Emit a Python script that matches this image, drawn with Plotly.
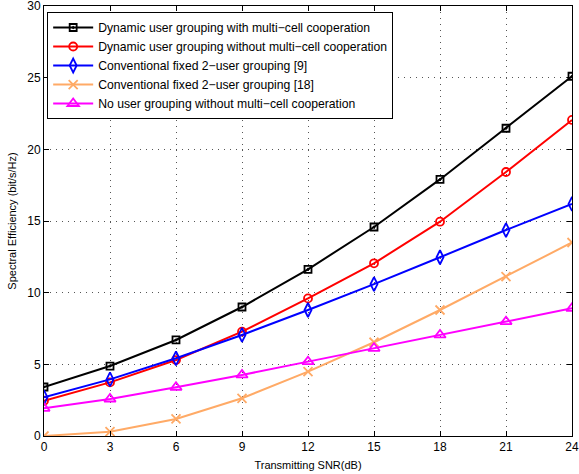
import plotly.graph_objects as go

snr = [0, 3, 6, 9, 12, 15, 18, 21, 24]
dyn_coop = [3.42, 4.88, 6.7, 9.0, 11.63, 14.58, 17.9, 21.47, 25.1]
dyn_nocoop = [2.46, 3.74, 5.3, 7.28, 9.6, 12.05, 14.95, 18.42, 22.05]
fixed9 = [2.7, 3.95, 5.42, 7.05, 8.79, 10.6, 12.47, 14.37, 16.19]
fixed18 = [0.0, 0.3, 1.19, 2.63, 4.49, 6.54, 8.79, 11.12, 13.5]
nogroup = [1.93, 2.58, 3.4, 4.26, 5.19, 6.12, 7.05, 7.98, 8.91]

names = [
    "Dynamic user grouping with multi\u2212cell cooperation",
    "Dynamic user grouping without multi\u2212cell cooperation",
    "Conventional fixed 2\u2212user grouping [9]",
    "Conventional fixed 2\u2212user grouping [18]",
    "No user grouping without multi\u2212cell cooperation",
]
x_ticks = [0, 3, 6, 9, 12, 15, 18, 21, 24]
y_ticks = [0, 5, 10, 15, 20, 25, 30]

series = [dyn_coop, dyn_nocoop, fixed9, fixed18, nogroup]
colors = ["#000000", "#FF0000", "#0000FF", "#FFAA66", "#FF00FF"]
symbols = ["square-open-dot", "circle-open", "diamond-tall-open", "x-thin-open", "triangle-up-open"]
sizes = [7, 8, 10, 9, 10]

fig = go.Figure()
for ys, nm, c, s, sz in zip(series, names, colors, symbols, sizes):
    fig.add_trace(go.Scatter(
        x=snr, y=ys, name=nm, mode="lines+markers",
        line=dict(color=c, width=2),
        marker=dict(symbol=s, size=sz, color=c, line=dict(color=c, width=1.8)),
    ))

axis_common = dict(
    showline=True, linecolor="black", linewidth=1, mirror="allticks",
    ticks="inside", ticklen=5, tickcolor="black", automargin=False,
    ticklabeloverflow="allow",
    showgrid=True, gridcolor="#555555", griddash="1px,5px", gridwidth=1,
    zeroline=False, tickfont=dict(size=12, color="black"),
)

fig.update_xaxes(range=[0, 24], tickvals=x_ticks,
                 title=dict(text="Transmitting SNR(dB)", font=dict(size=11, color="black"), standoff=7),
                 **axis_common)
fig.update_yaxes(range=[0, 30], tickvals=y_ticks,
                 title=dict(text="Spectral Efficiency (bit/s/Hz)", font=dict(size=11, color="black"), standoff=8),
                 **axis_common)

fig.update_layout(
    width=579, height=474,
    margin=dict(l=44, r=7, t=6, b=38, autoexpand=False),
    plot_bgcolor="white", paper_bgcolor="white",
    font=dict(family="Liberation Sans, Arial, sans-serif", color="black"),
    legend=dict(x=0.006, y=0.986, xanchor="left", yanchor="top",
                bgcolor="white", bordercolor="black", borderwidth=1,
                font=dict(size=12.2), itemwidth=40, tracegroupgap=0),
    showlegend=True,
)

fig.write_html("out.html", config={"displayModeBar": False},
               post_script="document.body.style.margin='0';document.body.style.overflow='hidden';")
